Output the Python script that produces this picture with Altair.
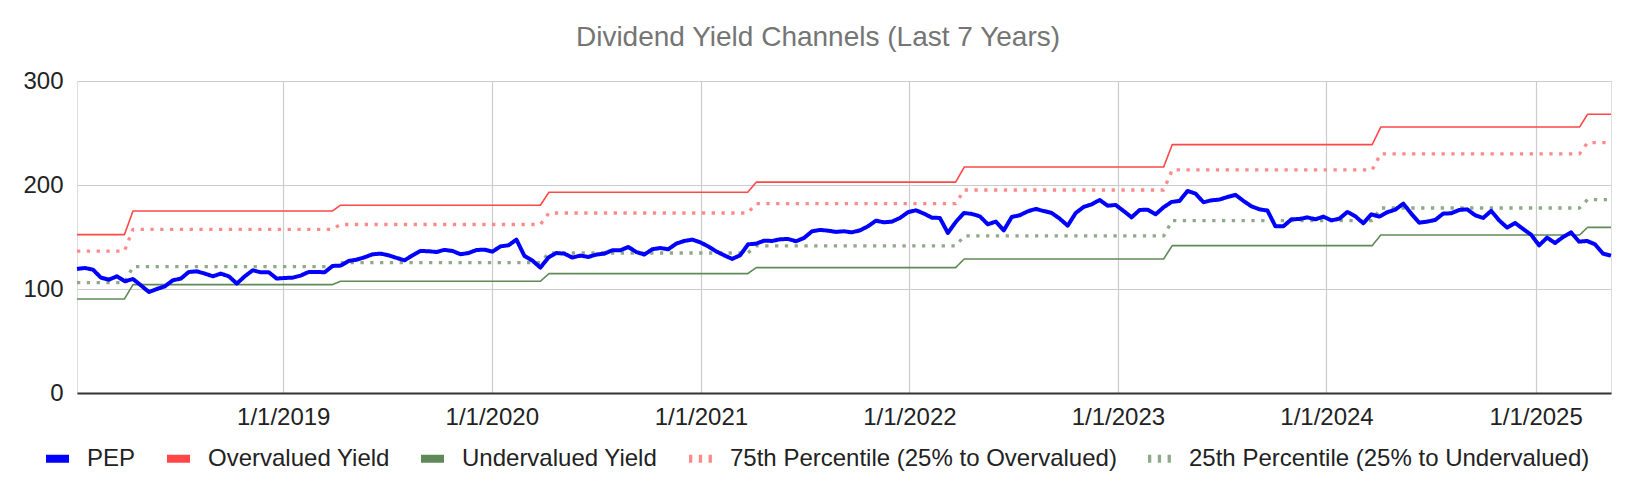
import altair as alt
import pandas as pd

TITLE = "Dividend Yield Channels (Last 7 Years)"

series_names = [
    "PEP",
    "Overvalued Yield",
    "Undervalued Yield",
    "75th Percentile (25% to Overvalued)",
    "25th Percentile (25% to Undervalued)",
]
series_colors = ["#0000ff", "#ff4747", "#5f8a58", "#ff8a8a", "#8fa98a"]
series_dashes = [[1, 0], [1, 0], [1, 0], [3.3, 6.5], [3.3, 6.5]]

# PEP yield-based fair value line, roughly bi-weekly samples
pep_start = "2018-01-05"
pep_end = "2025-05-13"
pep_values = [
    119.3, 120.2, 118.6, 110.9, 109.0, 112.2, 107.4, 109.6, 103.5, 97.1,
    100.0, 102.6, 108.4, 110.0, 116.4, 117.0, 114.8, 112.2, 114.8, 112.2,
    105.2, 112.2, 118.0, 116.1, 116.1, 110.0, 110.6, 110.9, 112.9, 116.4,
    116.4, 116.1, 122.2, 122.5, 127.0, 128.2, 130.5, 133.4, 134.0, 132.4,
    129.9, 127.6, 132.4, 136.6, 136.3, 135.6, 137.6, 136.6,
    133.4, 134.6, 137.5, 137.8, 135.9, 141.0, 142.0, 147.5, 131.8, 127.3,
    120.6, 130.2, 134.6, 134.0, 130.2, 132.1, 130.8, 133.1, 134.0, 137.2,
    137.2, 140.4, 135.6, 133.1, 138.2, 139.4, 138.2, 143.6, 146.2, 147.5,
    144.9, 141.0, 136.2, 132.4, 128.9, 132.4, 143.0, 143.6, 146.5, 146.2,
    147.8, 148.1, 145.9, 149.1, 155.5, 156.8, 156.1, 154.9, 155.5,
    154.5, 156.4, 160.3, 165.7, 164.1, 164.8, 168.3, 173.8, 175.7, 172.5,
    168.6, 168.3, 153.9, 164.5, 173.1, 172.2, 169.9, 162.2, 164.8, 156.4,
    169.3, 170.9, 174.7, 177.0, 175.0, 173.1, 167.6, 160.9, 173.1, 178.9,
    181.4, 185.6, 180.1, 180.8, 175.0, 168.9, 176.0, 176.3, 171.8, 178.6,
    183.7, 184.7, 194.3, 191.7, 183.4, 185.3, 186.0,
    188.5, 190.5, 184.7, 179.5, 176.6, 175.4, 160.3, 160.3, 167.0, 167.3,
    168.9, 167.0, 169.6, 166.0, 167.6, 174.1, 169.9, 163.2, 171.8, 169.6,
    173.8, 176.3, 182.1, 172.5, 163.8, 164.8, 166.4, 172.5, 172.8, 176.0,
    176.6, 170.9, 168.3, 175.1, 166.0, 159.0, 163.5, 157.7, 152.2, 142.0,
    149.4, 144.2, 150.0, 154.5, 145.5, 146.2, 143.0, 134.0, 132.1,
]

# Channel step changes (start and end of each yearly step)
step_starts = ["2018-03-29", "2019-03-28", "2020-03-26", "2021-03-24",
               "2022-03-23", "2023-03-22", "2024-03-21", "2025-03-19"]
step_ends = ["2018-04-13", "2019-04-11", "2020-04-10", "2021-04-08",
             "2022-04-07", "2023-04-06", "2024-04-05", "2025-04-02"]

overvalued_levels = [152.3, 175.0, 180.5, 193.0, 202.8, 217.3, 238.8, 255.7, 268.0]
undervalued_levels = [90.4, 104.2, 107.4, 114.8, 120.6, 128.9, 141.7, 151.9, 159.3]
p75_levels = [136.5, 157.4, 162.0, 173.1, 182.1, 195.2, 214.6, 230.0, 240.8]
p25_levels = [106.1, 121.5, 125.4, 134.6, 141.4, 151.0, 165.8, 177.9, 186.0]

x_tick_years = [2019, 2020, 2021, 2022, 2023, 2024, 2025]
y_ticks = [0, 100, 200, 300]

# ---- build tables ----
pep_dates = pd.date_range(pep_start, pep_end, periods=len(pep_values))
pep_df = pd.DataFrame({
    "date": pep_dates.strftime("%Y-%m-%dT%H:%M:%S"),
    "value": pep_values,
    "series": series_names[0],
})


def channel(levels, name):
    dates = [pep_start]
    vals = [levels[0]]
    for k, (s, e) in enumerate(zip(step_starts, step_ends)):
        dates += [s, e]
        vals += [levels[k], levels[k + 1]]
    dates.append(pep_end)
    vals.append(levels[-1])
    return pd.DataFrame({"date": [d + "T00:00:00" for d in dates],
                         "value": vals, "series": name})


over_df = channel(overvalued_levels, series_names[1])
under_df = channel(undervalued_levels, series_names[2])
p75_df = channel(p75_levels, series_names[3])
p25_df = channel(p25_levels, series_names[4])

FONT = "Liberation Sans"

x_enc = alt.X(
    "date:T",
    scale=alt.Scale(domain=[alt.DateTime(year=2018, month=1, date=5),
                            alt.DateTime(year=2025, month=5, date=13)], nice=False),
    axis=alt.Axis(
        values=[alt.DateTime(year=y, month=1, date=1) for y in x_tick_years],
        format="%-m/%-d/%Y", title=None, grid=True, gridColor="#cccccc", gridWidth=1.2,
        ticks=False, domain=True, domainColor="#333333", domainWidth=2,
        labelFontSize=24, labelFont=FONT, labelColor="#222222", labelPadding=12,
        labelOverlap=False, labelFlush=False,
    ),
)
y_enc = alt.Y(
    "value:Q",
    scale=alt.Scale(domain=[0, 300], nice=False, zero=True),
    axis=alt.Axis(
        values=y_ticks, title=None, grid=True, gridColor="#cccccc", gridWidth=1.2,
        ticks=False, domain=False, labelFontSize=24, labelFont=FONT,
        labelColor="#222222", labelPadding=14,
    ),
)


def make_legend():
    return alt.Legend(
        title=None, orient="none", direction="horizontal", legendX=-35, legendY=362,
        symbolType="stroke", symbolSize=529, symbolStrokeWidth=8,
        labelFontSize=24, labelFont=FONT, labelColor="#222222", labelLimit=600,
        labelOffset=14, columnPadding=15,
    )


color_enc = alt.Color(
    "series:N",
    scale=alt.Scale(domain=series_names, range=series_colors),
    legend=make_legend(),
    sort=series_names,
)
dash_enc = alt.StrokeDash(
    "series:N",
    scale=alt.Scale(domain=series_names, range=series_dashes),
    legend=make_legend(),
    sort=series_names,
)


def layer(df, width):
    return alt.Chart(df).mark_line(
        strokeWidth=width, strokeCap="butt", strokeJoin="round"
    ).encode(x=x_enc, y=y_enc, color=color_enc, strokeDash=dash_enc)


chart = alt.layer(
    layer(p75_df, 3.3),
    layer(p25_df, 3.3),
    layer(over_df, 1.6),
    layer(under_df, 1.6),
    layer(pep_df, 4),
).properties(
    width=1534,
    height=312,
    autosize=alt.AutoSizeParams(type="none"),
    padding={"left": 69, "top": 73, "right": 17, "bottom": 92},
    title=alt.TitleParams(
        text=TITLE, fontSize=28, font=FONT, color="#757575", fontWeight="normal",
        anchor="middle", dx=-26, dy=38, offset=33, baseline="alphabetic",
    ),
).configure_view(stroke=None).configure(background="white")

chart.save("out.html", embed_options={"renderer": "svg", "actions": False})
